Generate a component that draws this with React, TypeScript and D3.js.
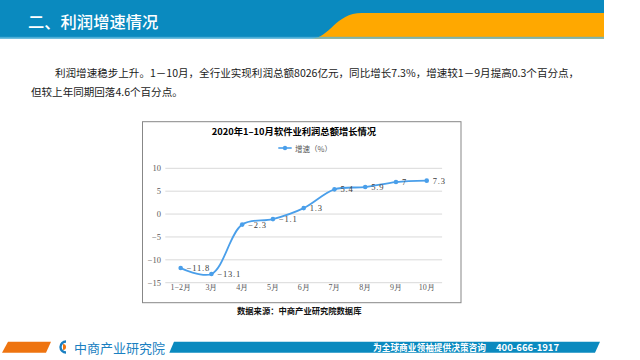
import React from "react";
import * as d3 from "d3";

const categories = ["1-2月", "3月", "4月", "5月", "6月", "7月", "8月", "9月", "10月"];
const growth = [-11.8, -13.1, -2.3, -1.1, 1.3, 5.4, 5.9, 7, 7.3];
const yTicks = [10, 5, 0, -5, -10, -15];
const chartTitle = "2020年1–10月软件业利润总额增长情况";
const legendLabel = "增速（%）";
const pageTitle = "二、利润增速情况";
const para1 = "利润增速稳步上升。1－10月，全行业实现利润总额8026亿元，同比增长7.3%，增速较1－9月提高0.3个百分点，";
const para2 = "但较上年同期回落4.6个百分点。";
const source = "数据来源：中商产业研究院数据库";

const W = 640, H = 360;
const BLUE = "#0a8abf";
const ORANGE = "#ffa800";
const LINE = "#4a9fea";
const CJK = "'Noto Sans CJK SC', 'Noto Sans', sans-serif";
const SERIF = "'Liberation Serif', 'DejaVu Serif', serif";

export default function App() {
  const x = d3.scaleBand<string>().domain(categories).range([165.3, 442.1]);
  const y = d3.scaleLinear().domain([-15, 10]).range([282.7, 168.3]);
  const cx = (c: string) => (x(c) as number) + x.bandwidth() / 2;
  const pts: [number, number][] = categories.map((c, i) => [cx(c), y(growth[i])]);
  const line = d3.line().curve(d3.curveCatmullRom.alpha(0.5))(pts) as string;

  const orangePath = "M311,38.5 C330,38.5 335,13 362,13 L604,13 L604,38.5 Z";

  return (
    <svg width={W} height={H} style={{ position: "absolute", left: 0, top: 0, background: "#fff" }}>
      <rect x={0} y={0} width={W} height={H} fill="#fff" />
      {/* top banner */}
      <rect x={0} y={0} width={604} height={38.5} fill={BLUE} />
      <path d={orangePath} fill={ORANGE} />
      <rect x={0} y={36.8} width={604} height={1.8} fill="#5bb6dc" opacity={0.8} />
      <text x={28} y={21} dominantBaseline="central" fill="#fff" fontFamily={CJK} fontSize={16.3} fontWeight={500}>
        {pageTitle}
      </text>

      {/* paragraph */}
      <text x={55} y={72.5} dominantBaseline="central" fill="#1a1a1a" fontFamily={CJK} fontSize={10.55}>
        {para1}
      </text>
      <text x={31} y={91.5} dominantBaseline="central" fill="#1a1a1a" fontFamily={CJK} fontSize={10.55}>
        {para2}
      </text>

      {/* chart box */}
      <rect x={142.5} y={121.7} width={318.5} height={181} fill="#fff" stroke="#878787" strokeWidth={1} />
      <text x={294} y={131} textAnchor="middle" dominantBaseline="central" fill="#000" fontFamily={CJK} fontSize={9.3} fontWeight={700}>
        {chartTitle}
      </text>
      {/* legend */}
      <line x1={278.3} x2={291.7} y1={148} y2={148} stroke={LINE} strokeWidth={1.6} />
      <circle cx={285} cy={148} r={2.2} fill={LINE} />
      <text x={295} y={148} dominantBaseline="central" fill="#595959" fontFamily={CJK} fontSize={7.5}>
        {legendLabel}
      </text>

      {/* grid */}
      {yTicks.map((t) => (
        <g key={t}>
          <line x1={165.3} x2={442.1} y1={y(t)} y2={y(t)} stroke="#d9d9d9" strokeWidth={1} />
          <text x={161} y={y(t)} textAnchor="end" dominantBaseline="central" fill="#595959" fontFamily={SERIF} fontSize={8.5}>
            {t < 0 ? "−" + Math.abs(t) : String(t)}
          </text>
        </g>
      ))}
      {categories.map((c) => (
        <text key={c} x={cx(c)} y={287} textAnchor="middle" dominantBaseline="central" fill="#595959" fontFamily={SERIF} fontSize={8}>
          {c.replace("-", "−")}
        </text>
      ))}

      {/* series */}
      <path d={line} fill="none" stroke={LINE} strokeWidth={1.8} />
      {pts.map(([px, py], i) => (
        <g key={i}>
          <circle cx={px} cy={py} r={2.3} fill={LINE} />
          <text x={px + 6} y={py} dominantBaseline="central" fill="#404040" fontFamily={SERIF} fontSize={8.5} letterSpacing={0.8}>
            {growth[i] < 0 ? "−" + Math.abs(growth[i]) : String(growth[i])}
          </text>
        </g>
      ))}

      {/* source */}
      <text x={237} y={310} dominantBaseline="central" fill="#111" fontFamily={CJK} fontSize={8.3} fontWeight={700}>
        {source}
      </text>

      {/* bottom bar */}
      <path d="M8,341.7 L51,341.7 L46,352.7 L2,352.7 Z" fill="#ee7410" />
      <path d="M174,341.7 L600,341.7 L595,352.7 L169.3,352.7 Z" fill={BLUE} />
      <path d="M66,341.5 A5.5,5.5 0 1 0 66,352.5" fill="none" stroke="#1a7fc1" strokeWidth={2.4} />
      <path d="M63,344 A3,3 0 0 1 63,350 Z" fill="#ee7410" />
      <text x={74} y={347.2} dominantBaseline="central" fill="#1a7fc1" fontFamily={CJK} fontSize={13} fontWeight={400}>
        中商产业研究院
      </text>
      <text x={373} y={347.2} dominantBaseline="central" fill="#fff" fontFamily={CJK} fontSize={8.7} fontWeight={700}>
        为全球商业领袖提供决策咨询
      </text>
      <text x={496} y={347.2} dominantBaseline="central" fill="#fff" fontFamily={CJK} fontSize={9.5} fontWeight={700}>
        400-666-1917
      </text>
    </svg>
  );
}
